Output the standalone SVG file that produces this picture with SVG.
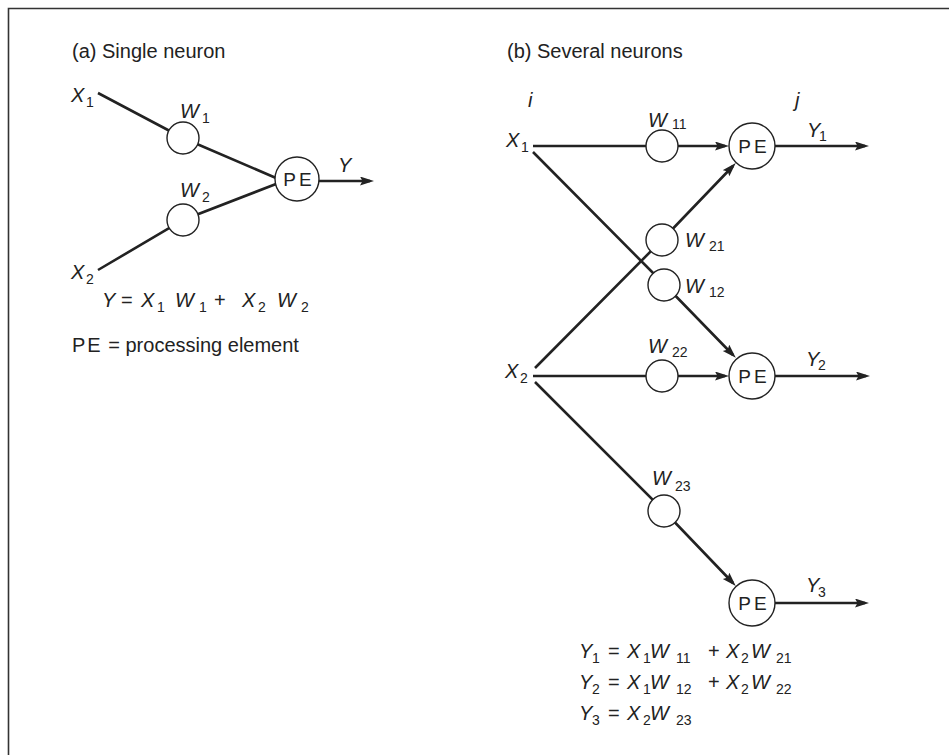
<svg xmlns="http://www.w3.org/2000/svg" width="949" height="755" viewBox="0 0 949 755">
<defs>
<style>
text{font-family:"Liberation Sans",Arial,Helvetica,sans-serif;fill:#222}
.h{font-size:20px}
.i{font-style:italic;font-size:20px}
.s{font-style:normal;font-size:14px}
.r{font-style:normal;font-size:20px}
.pe{font-size:19px;letter-spacing:3px;text-anchor:middle}
.ln{stroke:#222;stroke-width:2.6;fill:none}
.ar{stroke:#222;stroke-width:2.6;fill:none;marker-end:url(#ah)}
.c{fill:#fff;stroke:#222;stroke-width:1.4}
.frame{stroke:#333;stroke-width:1.6;fill:none}
</style>
<marker id="ah" markerUnits="userSpaceOnUse" markerWidth="16" markerHeight="12" refX="10" refY="4.5" orient="auto">
<path d="M0,0 L14,4.5 L0,9 L2.5,4.5 z" fill="#222"/>
</marker>
</defs>
<rect width="949" height="755" fill="#fff"/>
<path class="frame" d="M8.5,755 V8.5 H949"/>

<g id="connectors">
<polyline class="ln" points="98,93 183,138 276,178"/>
<polyline class="ln" points="98,270 183,220 276,184"/>
<line class="ar" x1="319" y1="181" x2="370" y2="181"/>
<line class="ln" x1="533" y1="146" x2="662" y2="146"/>
<line class="ar" x1="678" y1="146" x2="725" y2="146"/>
<polyline class="ar" points="533,152 664,284 733,355"/>
<polyline class="ar" points="535,368 662,240 733,166"/>
<line class="ln" x1="533" y1="376" x2="662" y2="376"/>
<line class="ar" x1="678" y1="376" x2="725" y2="376"/>
<polyline class="ar" points="535,382 664,511 733,583"/>
<line class="ar" x1="775" y1="146" x2="865" y2="146"/>
<line class="ar" x1="775" y1="376" x2="866" y2="376"/>
<line class="ar" x1="775" y1="603" x2="865" y2="603"/>
</g>

<g id="panel-a">
<text class="h" x="72" y="58">(a) Single neuron</text>
<g id="a-x1"><text class="i" x="71" y="102">X<tspan class="s" x="86" y="107">1</tspan></text></g>
<g id="a-x2"><text class="i" x="71" y="279">X<tspan class="s" x="86" y="284">2</tspan></text></g>
<g id="a-w1"><circle class="c" cx="183" cy="138" r="16"/><text class="i" x="180" y="118">W<tspan class="s" x="202" y="123">1</tspan></text></g>
<g id="a-w2"><circle class="c" cx="183" cy="220" r="16"/><text class="i" x="180" y="197">W<tspan class="s" x="202" y="202">2</tspan></text></g>
<g id="a-pe"><circle class="c" cx="297" cy="179" r="22"/><text class="pe" x="299" y="186">PE</text></g>
<text class="i" x="338" y="172">Y</text>
<text class="i" y="307"><tspan x="102">Y</tspan><tspan class="r" x="121">=</tspan><tspan x="141">X</tspan><tspan class="s" x="157" y="312">1</tspan><tspan x="175" y="307">W</tspan><tspan class="s" x="199" y="312">1</tspan><tspan class="r" x="214" y="307">+</tspan><tspan x="242">X</tspan><tspan class="s" x="258" y="312">2</tspan><tspan x="277" y="307">W</tspan><tspan class="s" x="301" y="312">2</tspan></text>
<text class="r" x="72" y="352"><tspan letter-spacing="2">PE</tspan> = processing element</text>
</g>

<g id="panel-b">
<text class="h" x="507" y="58">(b) Several neurons</text>
<text class="i" x="528" y="107">i</text>
<text class="i" x="795" y="107">j</text>
<g id="b-x1"><text class="i" x="506" y="147">X<tspan class="s" x="521" y="152">1</tspan></text></g>
<g id="b-x2"><text class="i" x="505" y="378">X<tspan class="s" x="520" y="383">2</tspan></text></g>
<g id="b-w11"><circle class="c" cx="662" cy="146" r="16"/><text class="i" x="648" y="127">W<tspan class="s" x="672" y="129">11</tspan></text></g>
<g id="b-w21"><circle class="c" cx="662" cy="240" r="16"/><text class="i" x="685" y="247">W<tspan class="s" x="709" y="251">21</tspan></text></g>
<g id="b-w12"><circle class="c" cx="664" cy="285" r="16"/><text class="i" x="685" y="293">W<tspan class="s" x="709" y="297">12</tspan></text></g>
<g id="b-w22"><circle class="c" cx="662" cy="376" r="16"/><text class="i" x="648" y="353">W<tspan class="s" x="672" y="357">22</tspan></text></g>
<g id="b-w23"><circle class="c" cx="664" cy="511" r="16"/><text class="i" x="652" y="485">W<tspan class="s" x="675" y="491">23</tspan></text></g>
<g id="b-pe1"><circle class="c" cx="752" cy="146" r="23"/><text class="pe" x="754" y="153">PE</text></g>
<g id="b-pe2"><circle class="c" cx="752" cy="376" r="23"/><text class="pe" x="754" y="383">PE</text></g>
<g id="b-pe3"><circle class="c" cx="752" cy="603" r="23"/><text class="pe" x="754" y="610">PE</text></g>
<text class="i" x="807" y="137">Y<tspan class="s" x="819" y="141">1</tspan></text>
<text class="i" x="806" y="366">Y<tspan class="s" x="818" y="370">2</tspan></text>
<text class="i" x="806" y="592">Y<tspan class="s" x="818" y="597">3</tspan></text>
<text class="i" y="658"><tspan x="579">Y</tspan><tspan class="s" x="592" y="663">1</tspan><tspan class="r" x="608" y="658">=</tspan><tspan x="627">X</tspan><tspan class="s" x="643" y="663">1</tspan><tspan x="650" y="658">W</tspan><tspan class="s" x="676" y="663">11</tspan><tspan class="r" x="708" y="658">+</tspan><tspan x="726">X</tspan><tspan class="s" x="741" y="663">2</tspan><tspan x="751" y="658">W</tspan><tspan class="s" x="776" y="663">21</tspan></text>
<text class="i" y="689"><tspan x="579">Y</tspan><tspan class="s" x="592" y="694">2</tspan><tspan class="r" x="608" y="689">=</tspan><tspan x="627">X</tspan><tspan class="s" x="643" y="694">1</tspan><tspan x="650" y="689">W</tspan><tspan class="s" x="676" y="694">12</tspan><tspan class="r" x="708" y="689">+</tspan><tspan x="726">X</tspan><tspan class="s" x="741" y="694">2</tspan><tspan x="751" y="689">W</tspan><tspan class="s" x="776" y="694">22</tspan></text>
<text class="i" y="720"><tspan x="579">Y</tspan><tspan class="s" x="592" y="725">3</tspan><tspan class="r" x="608" y="720">=</tspan><tspan x="627">X</tspan><tspan class="s" x="643" y="725">2</tspan><tspan x="650" y="720">W</tspan><tspan class="s" x="676" y="725">23</tspan></text>
</g>
</svg>
